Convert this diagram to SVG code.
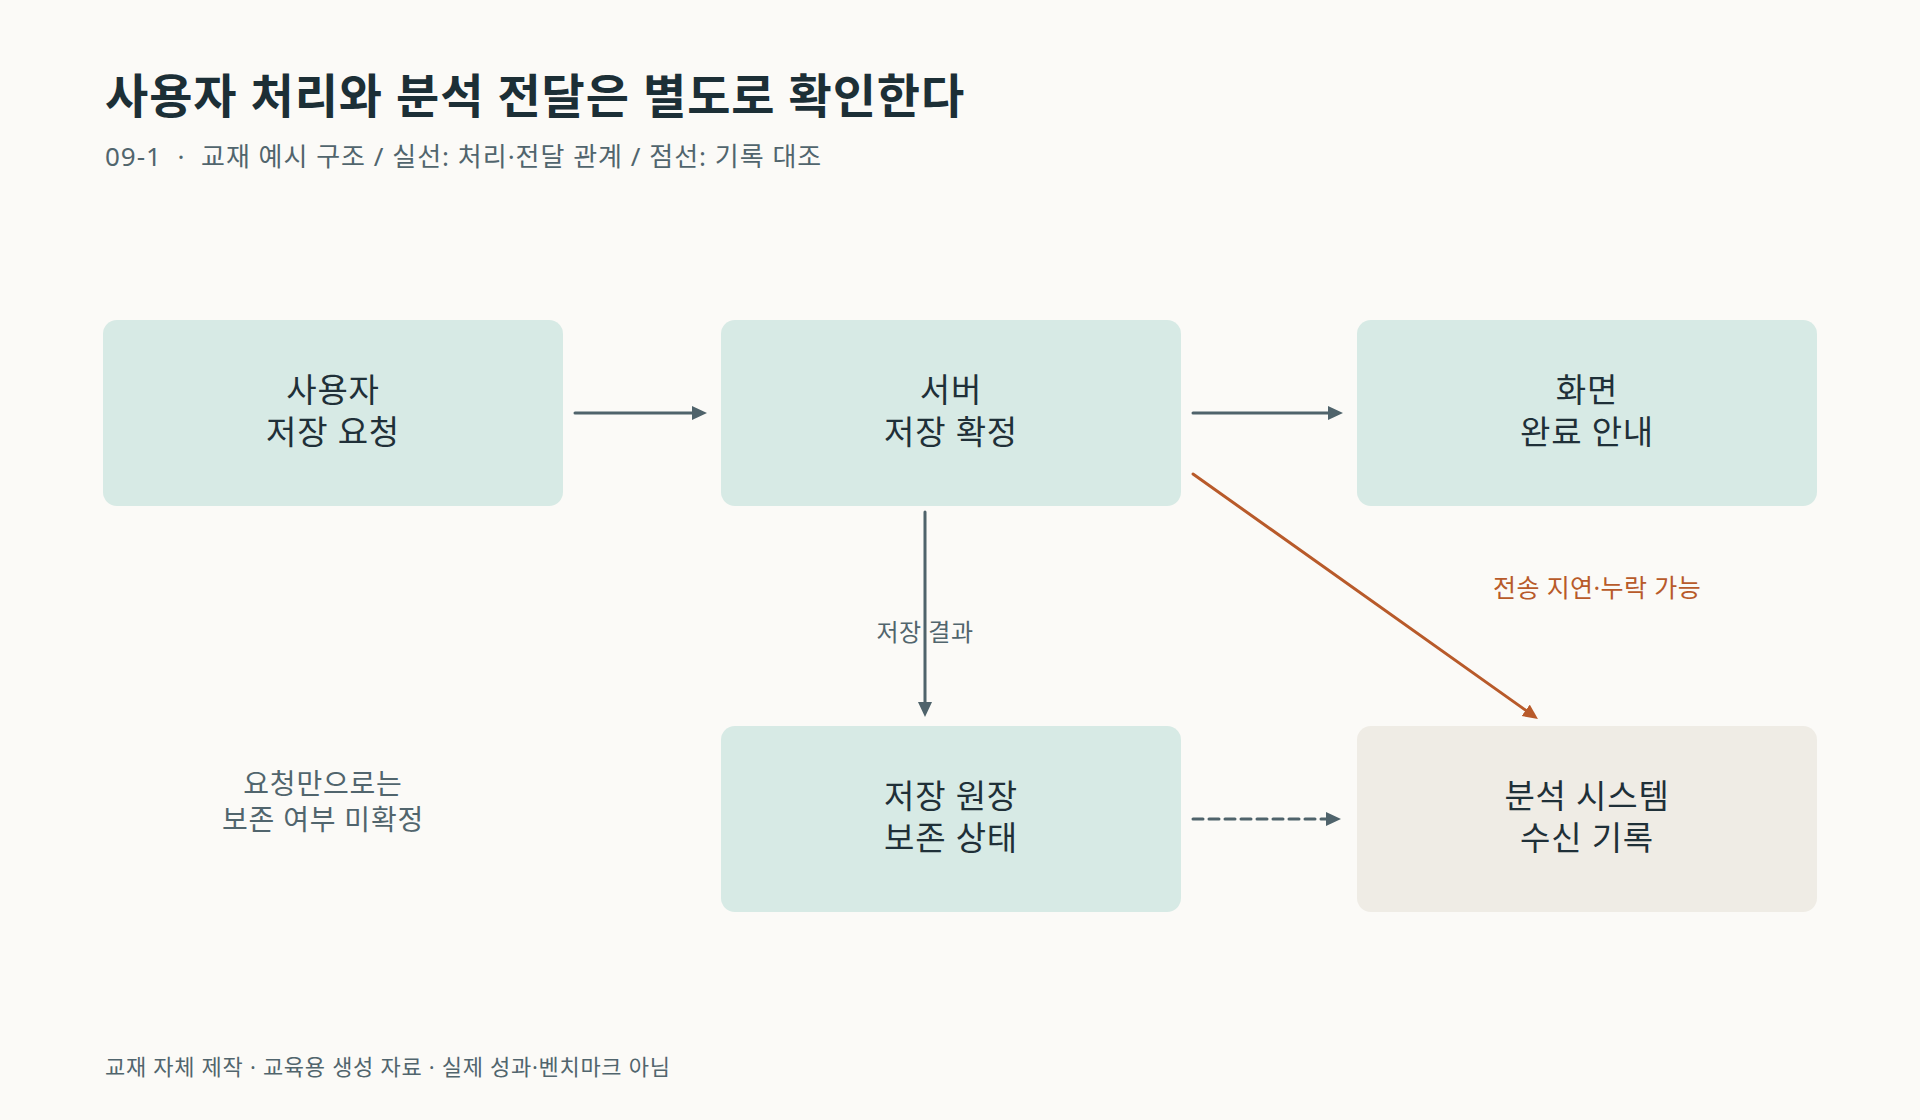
<svg xmlns="http://www.w3.org/2000/svg" width="1920" height="1120" viewBox="0 0 1920 1120">
  <style>
    text { font-family: "Noto Sans", "Noto Sans CJK KR", sans-serif; }
    .title { font-size: 47px; font-weight: 700; fill: #1c2f36; letter-spacing: 0.9px; }
    .sub { font-size: 26px; fill: #51656d; letter-spacing: 1px; }
    .foot { font-size: 22px; fill: #51656d; letter-spacing: 0.7px; }
    .box { fill: #d7eae5; }
    .box2 { fill: #efece5; }
    .nt { font-size: 33px; fill: #1f3038; text-anchor: middle; letter-spacing: 0.8px; }
    .note { font-size: 28px; fill: #51656d; text-anchor: middle; letter-spacing: 0.8px; }
    .lbl { font-size: 24px; fill: #51656d; text-anchor: middle; letter-spacing: 0.5px; }
    .olbl { font-size: 25px; fill: #b85a2a; letter-spacing: 0.4px; }
    .edge { stroke: #4f636b; stroke-width: 3; fill: none; stroke-linecap: round; }
    .oedge { stroke: #b85a2a; stroke-width: 3; fill: none; stroke-linecap: round; }
  </style>
  <defs>
    <marker id="ah" markerUnits="userSpaceOnUse" markerWidth="16" markerHeight="16" refX="5" refY="7" orient="auto">
      <path d="M0,0 L15,7 L0,14 z" fill="#4f636b"/>
    </marker>
    <marker id="aho" markerUnits="userSpaceOnUse" markerWidth="16" markerHeight="16" refX="5" refY="7" orient="auto">
      <path d="M0,0 L15,7 L0,14 z" fill="#b85a2a"/>
    </marker>
  </defs>
  <rect width="1920" height="1120" fill="#fbfaf7"/>
  <text class="title" x="105" y="113">사용자 처리와 분석 전달은 별도로 확인한다</text>
  <text class="sub" x="105" y="166" xml:space="preserve">09-1  ·  교재 예시 구조 / 실선: 처리·전달 관계 / 점선: 기록 대조</text>

  <g id="connectors">
    <line class="edge" x1="575" y1="413" x2="697" y2="413" marker-end="url(#ah)"/>
    <line class="edge" x1="1193" y1="413" x2="1333" y2="413" marker-end="url(#ah)"/>
    <line class="oedge" x1="1193" y1="474" x2="1529.8" y2="713.2" marker-end="url(#aho)"/>
    <line class="edge" x1="925" y1="512" x2="925" y2="707" marker-end="url(#ah)"/>
    <line class="edge" x1="1193" y1="819" x2="1331" y2="819" stroke-dasharray="10 6" marker-end="url(#ah)"/>
    <text class="lbl" x="925" y="641">저장 결과</text>
    <text class="olbl" x="1493" y="597">전송 지연·누락 가능</text>
  </g>

  <g id="node-request">
    <rect class="box" x="103" y="320" width="460" height="186" rx="14"/>
    <text class="nt" x="333" y="402">사용자</text>
    <text class="nt" x="333" y="444">저장 요청</text>
  </g>
  <g id="node-server">
    <rect class="box" x="721" y="320" width="460" height="186" rx="14"/>
    <text class="nt" x="951" y="402">서버</text>
    <text class="nt" x="951" y="444">저장 확정</text>
  </g>
  <g id="node-screen">
    <rect class="box" x="1357" y="320" width="460" height="186" rx="14"/>
    <text class="nt" x="1587" y="402">화면</text>
    <text class="nt" x="1587" y="444">완료 안내</text>
  </g>
  <g id="node-ledger">
    <rect class="box" x="721" y="726" width="460" height="186" rx="14"/>
    <text class="nt" x="951" y="808">저장 원장</text>
    <text class="nt" x="951" y="850">보존 상태</text>
  </g>
  <g id="node-analytics">
    <rect class="box2" x="1357" y="726" width="460" height="186" rx="14"/>
    <text class="nt" x="1587" y="808">분석 시스템</text>
    <text class="nt" x="1587" y="850">수신 기록</text>
  </g>
  <g id="note">
    <text class="note" x="323" y="794">요청만으로는</text>
    <text class="note" x="323" y="830">보존 여부 미확정</text>
  </g>

  <text class="foot" x="105" y="1075">교재 자체 제작 · 교육용 생성 자료 · 실제 성과·벤치마크 아님</text>
</svg>
